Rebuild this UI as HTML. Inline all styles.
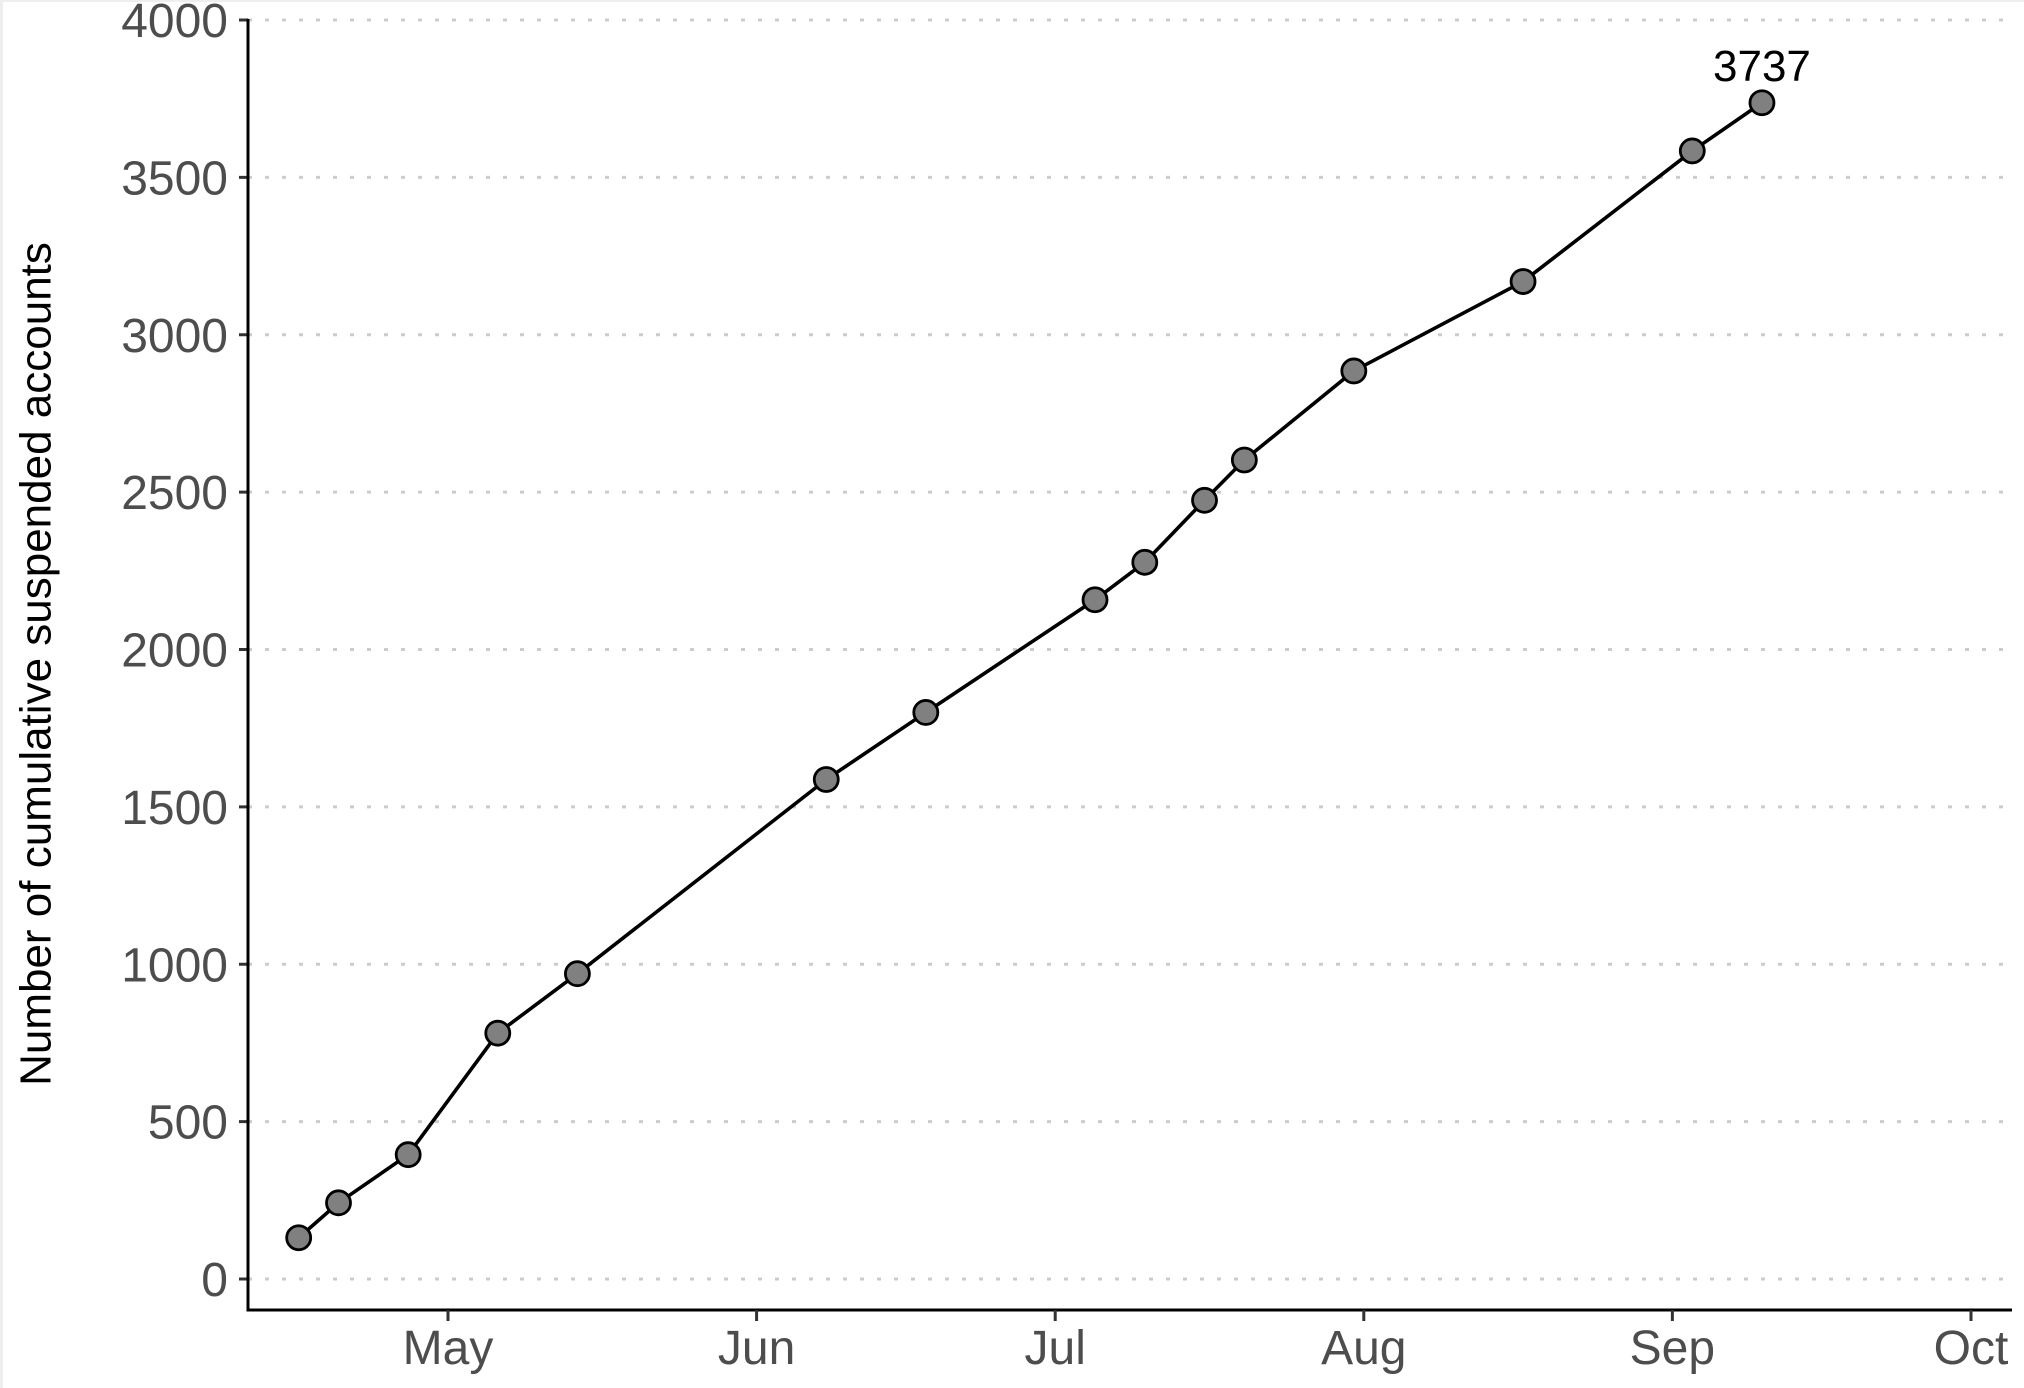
<!DOCTYPE html>
<html><head><meta charset="utf-8"><style>
html,body{margin:0;padding:0;background:#fff;}
svg{display:block;font-family:"Liberation Sans",Arial,sans-serif;}
</style></head><body>
<svg id="chart" width="2024" height="1388" viewBox="0 0 2024 1388" xmlns="http://www.w3.org/2000/svg">
<rect x="0" y="0" width="2024" height="1388" fill="#fff"/>
<rect x="0" y="0" width="3" height="1388" fill="#eeeeee"/>
<rect x="0" y="0" width="2024" height="2" fill="#eeeeee"/>
<g id="grid"></g>
<g id="yaxis"></g>
<g id="xaxis"></g>
<g id="series"></g>
<text x="39" y="664" transform="rotate(-90 39 664)" text-anchor="middle" dominant-baseline="middle" font-size="44" fill="#000">Number of cumulative suspended accounts</text>
</svg>
<script>
const dates = ["2024-04-16","2024-04-20","2024-04-27","2024-05-06","2024-05-14","2024-06-08","2024-06-18","2024-07-05","2024-07-10","2024-07-16","2024-07-20","2024-07-31","2024-08-17","2024-09-03","2024-09-10"];
const values = [131,242,395,781,970,1587,1800,2158,2277,2474,2602,2885,3169,3584,3737];
const yTicks = [0,500,1000,1500,2000,2500,3000,3500,4000];
const monthLabels = ["May","Jun","Jul","Aug","Sep","Oct"];
const monthDates = ["2024-05-01","2024-06-01","2024-07-01","2024-08-01","2024-09-01","2024-10-01"];

const NS="http://www.w3.org/2000/svg";
const X0=248, X1=2012, Y0=1279, Y4000=20, XAXIS=1310;
const base=Date.UTC(2024,4,1);
function dayOf(s){const p=s.split("-");return (Date.UTC(+p[0],+p[1]-1,+p[2])-base)/86400000;}
function xScale(s){return 448+dayOf(s)*(1523/153);}
function yScale(v){return Y0-(v/4000)*(Y0-Y4000);}
function mk(tag,attrs,parent){const e=document.createElementNS(NS,tag);for(const k in attrs)e.setAttribute(k,attrs[k]);parent.appendChild(e);return e;}

const grid=document.getElementById('grid'), ya=document.getElementById('yaxis'), xa=document.getElementById('xaxis'), ser=document.getElementById('series');
yTicks.forEach(t=>{
  const y=yScale(t);
  const g=mk('line',{x1:X0,x2:X1,y1:y,y2:y,stroke:'#cccccc','stroke-width':3,'stroke-dasharray':'4 13'},grid);
  
  
  const tk=mk('line',{x1:239,x2:X0,y1:y,y2:y,stroke:'#333','stroke-width':3},ya);
  
  
  const lb=mk('text',{x:228,y:y+17,'text-anchor':'end','font-size':48,fill:'#4d4d4d'},ya);
  lb.textContent=t;
  
  
});
const yl=mk('line',{x1:X0,x2:X0,y1:Y4000-1,y2:XAXIS+1.5,stroke:'#000','stroke-width':3},ya);


const xl=mk('line',{x1:X0-1.5,x2:X1,y1:XAXIS,y2:XAXIS,stroke:'#000','stroke-width':3},xa);


monthLabels.forEach((m,i)=>{
  const x=xScale(monthDates[i]);
  const tk=mk('line',{x1:x,x2:x,y1:XAXIS,y2:XAXIS+11,stroke:'#333','stroke-width':3},xa);
  
  
  const lb=mk('text',{x:x,y:1364,'text-anchor':'middle','font-size':48,fill:'#4d4d4d'},xa);
  lb.textContent=m;
  
  
});
const pts=dates.map((d,i)=>[xScale(d),yScale(values[i])]);
const line=mk('polyline',{points:pts.map(p=>p.join(',')).join(' '),fill:'none',stroke:'#000','stroke-width':3.6,'stroke-linejoin':'round'},ser);


pts.forEach((p,i)=>{
  const c=mk('circle',{cx:p[0],cy:p[1],r:12,fill:'#808080',stroke:'#000','stroke-width':2.8},ser);
  
  
});
const last=pts[pts.length-1];
const ann=mk('text',{x:last[0],y:last[1]-22,'text-anchor':'middle','font-size':44,fill:'#000'},ser);
ann.textContent=values[values.length-1];


</script>
</body></html>
